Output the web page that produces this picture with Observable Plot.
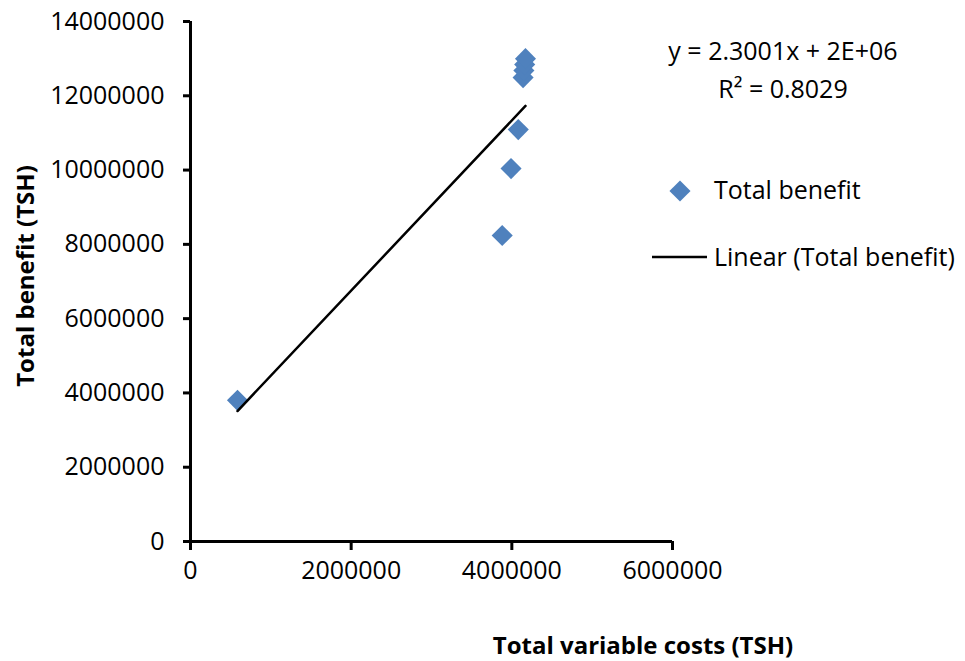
<!DOCTYPE html>
<html><head><meta charset="utf-8">
<script src="https://cdn.jsdelivr.net/npm/d3@7"></script>
<script src="https://cdn.jsdelivr.net/npm/@observablehq/plot@0.6"></script>
<style>body{margin:0;background:#fff;} svg{display:block}</style>
</head><body><div id="chart"></div>
<script>
// Data
const costs = [585000, 3880000, 3990000, 4080000, 4140000, 4150000, 4160000, 4170000];
const benefits = [3800000, 8240000, 10040000, 11090000, 12490000, 12680000, 12840000, 13000000];
const xTicks = [0, 2000000, 4000000, 6000000];
const yTicks = [0, 2000000, 4000000, 6000000, 8000000, 10000000, 12000000, 14000000];
const equation = "y = 2.3001x + 2E+06";
const rSquared = "R² = 0.8029";
const seriesName = "Total benefit";
const trendName = "Linear (Total benefit)";
const xTitle = "Total variable costs (TSH)";
const yTitle = "Total benefit (TSH)";

const data = costs.map((c, i) => ({cost: c, benefit: benefits[i]}));
const font = "'Open Sans', sans-serif";
const blue = "#4F81BD";

const plot = Plot.plot({
  width: 965, height: 661,
  marginLeft: 190, marginRight: 293, marginTop: 21, marginBottom: 120,
  style: {fontFamily: font, fontSize: "25px", color: "#000", background: "#fff", overflow: "visible"},
  x: {domain: [0, 6000000]},
  y: {domain: [0, 14000000]},
  marks: [
    Plot.axisX({ticks: xTicks, tickFormat: d => String(d), tickSize: 9, tickPadding: 11, strokeWidth: 3, label: null}),
    Plot.axisY({ticks: yTicks, tickFormat: d => String(d), tickSize: 7, tickPadding: 19, strokeWidth: 3, label: null}),
    Plot.ruleX([0], {strokeWidth: 3}),
    Plot.ruleY([0], {strokeWidth: 3}),
    Plot.dot(data, {x: "cost", y: "benefit", symbol: "diamond2", r: 9.5, fill: blue, stroke: "none"}),
    Plot.linearRegressionY(data, {x: "cost", y: "benefit", ci: 0, stroke: "#000", strokeWidth: 2.5})
  ]
});
document.getElementById("chart").appendChild(plot);

const svg = d3.select(plot);
const g = svg.append("g").attr("font-family", font).attr("font-size", 25).attr("fill", "#000").attr("text-anchor", "start");
g.append("text").attr("x", 783).attr("y", 60).attr("text-anchor", "middle").text(equation);
g.append("text").attr("x", 783).attr("y", 98).attr("text-anchor", "middle").text(rSquared);
// legend
g.append("path").attr("transform", "translate(680,191)")
  .attr("d", d3.symbol(d3.symbolDiamond2, Math.PI * 9.5 * 9.5)()).attr("fill", blue);
g.append("text").attr("x", 714).attr("y", 199).attr("text-anchor", "start").text(seriesName);
g.append("line").attr("x1", 652).attr("x2", 707).attr("y1", 257).attr("y2", 257)
  .attr("stroke", "#000").attr("stroke-width", 2.5);
g.append("text").attr("x", 714).attr("y", 266).attr("text-anchor", "start").text(trendName);
// axis titles
g.append("text").attr("x", 643).attr("y", 654).attr("text-anchor", "middle")
  .attr("font-weight", "bold").attr("font-size", 24).text(xTitle);
g.append("text").attr("transform", "translate(34,276) rotate(-90)").attr("text-anchor", "middle")
  .attr("font-weight", "bold").attr("font-size", 24).text(yTitle);
</script>
</body></html>
